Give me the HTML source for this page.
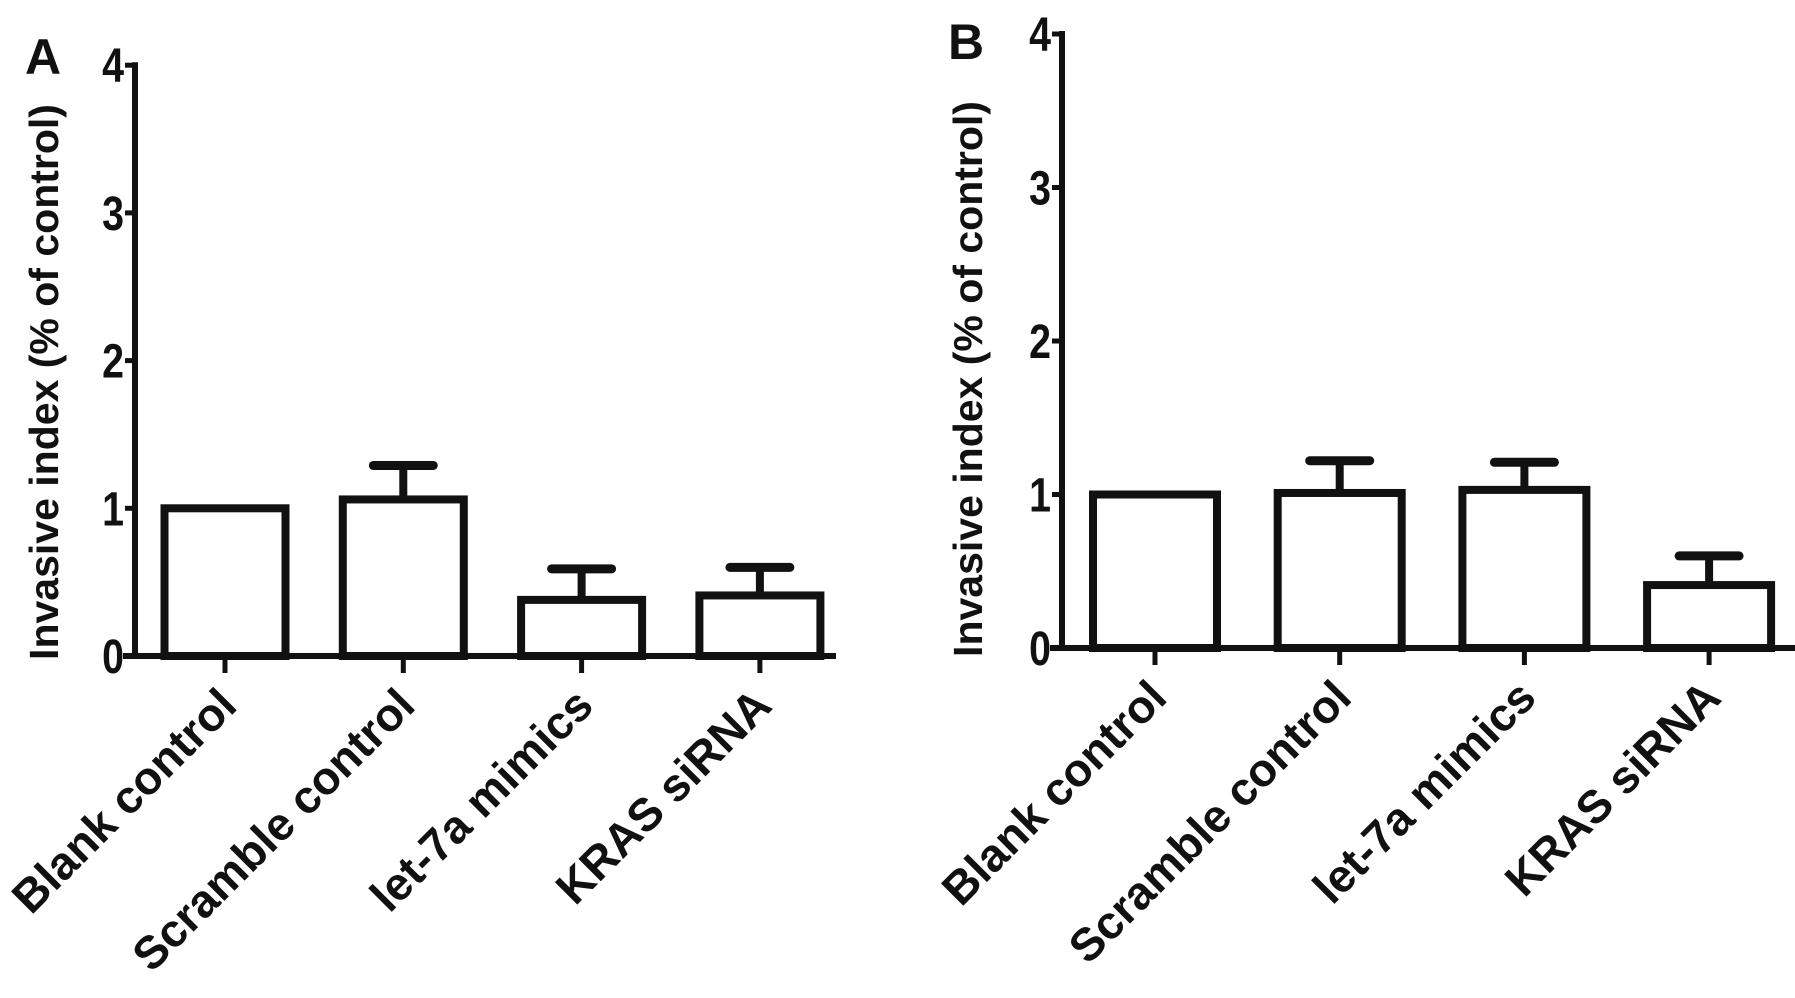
<!DOCTYPE html>
<html><head><meta charset="utf-8"><style>
body{margin:0;background:#fff}
svg{display:block}
text{font-family:"Liberation Sans",sans-serif;font-weight:bold;fill:#111}
</style></head><body>
<svg id="chart" width="1795" height="998" viewBox="0 0 1795 998"></svg>
<script>
const categories = ["Blank control","Scramble control","let-7a mimics","KRAS siRNA"];
const valuesA = [1.0, 1.06, 0.38, 0.41];
const errorsA = [0, 0.23, 0.21, 0.19];
const valuesB = [1.0, 1.01, 1.03, 0.41];
const errorsB = [0, 0.21, 0.18, 0.19];
const yTicks = [0,1,2,3,4];

const NS="http://www.w3.org/2000/svg";
const svg=document.getElementById('chart');
function el(tag,attrs,parent){const e=document.createElementNS(NS,tag);for(const k in attrs)e.setAttribute(k,attrs[k]);(parent||svg).appendChild(e);return e;}

function panel(cfg,vals,errs){
  const g=el('g',{});
  
  
  const y=v=>cfg.y0-v*cfg.unit;
  const x=i=>cfg.firstTick+i*cfg.step;
  const lab=el('text',{x:cfg.letterX,y:cfg.letterY,'font-size':50},g);lab.textContent=cfg.letter;
  
  
  const ya=el('line',{x1:cfg.ax,y1:y(4)-3,x2:cfg.ax,y2:cfg.y0,stroke:'#111','stroke-width':6},g);
  
  
  const xa=el('line',{x1:cfg.ax-12,y1:cfg.y0,x2:cfg.axEnd,y2:cfg.y0,stroke:'#111','stroke-width':6},g);
  
  
  yTicks.forEach(t=>{
    el('line',{x1:cfg.ax-10,y1:y(t),x2:cfg.ax,y2:y(t),stroke:'#111','stroke-width':5},g);
    const tl=el('text',{transform:`translate(${cfg.ax-11},${y(t)+17}) scale(0.82,1)`,'font-size':48,'text-anchor':'end'},g);
    tl.textContent=t;
    
    
  });
  const yt=el('text',{transform:`translate(${cfg.titleX},${cfg.titleY}) rotate(-90)`,'font-size':41,'text-anchor':'middle'},g);
  yt.textContent='Invasive index (% of control)';
  
  
  categories.forEach((c,i)=>{
    const cx=x(i),w=cfg.barW;
    el('line',{x1:cx,y1:cfg.y0,x2:cx,y2:cfg.y0+17,stroke:'#111','stroke-width':5},g);
    if(errs[i]>0){
      const eb=el('g',{},g);
      
      
      el('line',{x1:cx,y1:y(vals[i]),x2:cx,y2:y(vals[i]+errs[i]),stroke:'#111','stroke-width':8},eb);
      el('line',{x1:cx-30,y1:y(vals[i]+errs[i]),x2:cx+30,y2:y(vals[i]+errs[i]),stroke:'#111','stroke-width':9,'stroke-linecap':'round'},eb);
    }
    const r=el('rect',{x:cx-w/2,y:y(vals[i]),width:w,height:cfg.y0-y(vals[i]),fill:'#fff',stroke:'#111','stroke-width':8},g);
    
    
    const t=el('text',{transform:`translate(${cx+14},${cfg.y0+52}) rotate(-45)`,'font-size':46,'text-anchor':'end'},g);
    t.textContent=c;
    
    
  });
}
panel({letter:'A',letterX:25,letterY:74,ax:135,axEnd:836,y0:656,unit:147.7,firstTick:225,step:178.3,barW:121,titleX:58,titleY:382},valuesA,errorsA);
panel({letter:'B',letterX:948,letterY:59,ax:1062,axEnd:1795,y0:648,unit:153.5,firstTick:1155,step:184.7,barW:124,titleX:982,titleY:379},valuesB,errorsB);
</script>
</body></html>
